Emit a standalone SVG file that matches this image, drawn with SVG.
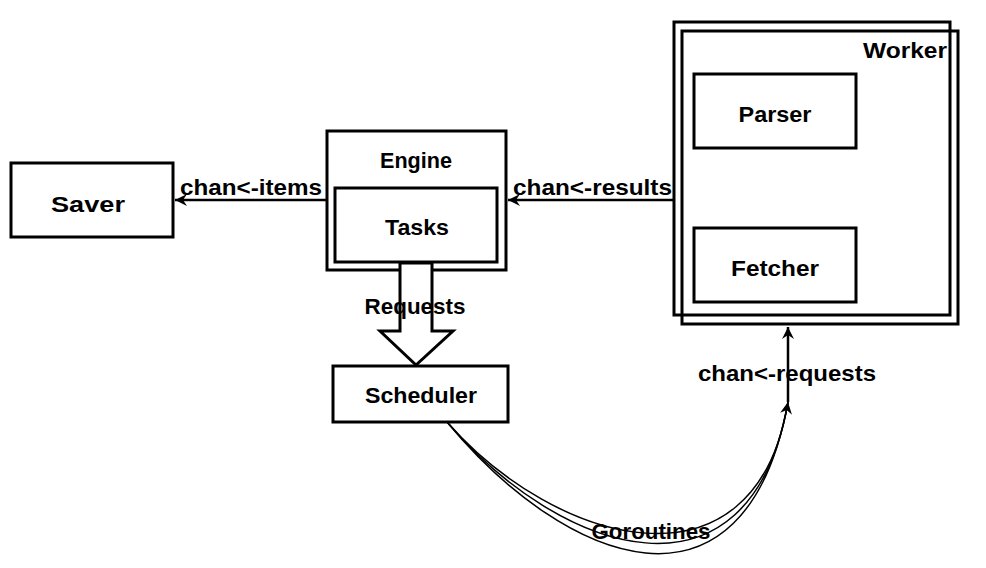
<svg xmlns="http://www.w3.org/2000/svg" width="986" height="568" viewBox="0 0 986 568">
<style>
.box{fill:#fff;stroke:#000;stroke-width:3}
.frame{fill:none;stroke:#000;stroke-width:3}
.t{font-family:"Liberation Sans","DejaVu Sans",sans-serif;font-weight:bold;font-size:22px;fill:#000}
.c{text-anchor:middle}
.ln{fill:none;stroke:#000;stroke-width:2.5}
.cv{fill:none;stroke:#000;stroke-width:1.5}
</style>
<defs>
<marker id="ah" markerWidth="14" markerHeight="12" refX="12" refY="6" orient="auto" markerUnits="userSpaceOnUse">
<path d="M0,0 L12,6 L0,12 L4,6 Z" fill="#000"/>
</marker>
</defs>
<rect width="986" height="568" fill="#fff"/>
<g id="saver">
<rect class="box" x="11" y="163" width="162" height="74"/>
<text class="t c" x="88" y="212" textLength="74" lengthAdjust="spacingAndGlyphs">Saver</text>
</g>
<g id="engine">
<rect class="box" x="327" y="131" width="179" height="139"/>
<text class="t c" x="416" y="168" textLength="72" lengthAdjust="spacingAndGlyphs">Engine</text>
</g>
<g id="tasks">
<rect class="box" x="335" y="188" width="162" height="74"/>
<text class="t c" x="417" y="235" textLength="64" lengthAdjust="spacingAndGlyphs">Tasks</text>
</g>
<g id="worker">
<rect class="frame" x="674" y="22" width="276" height="293"/>
<rect class="frame" x="682" y="31" width="276" height="293"/>
<text class="t c" x="905" y="58" textLength="84" lengthAdjust="spacingAndGlyphs">Worker</text>
</g>
<g id="parser">
<rect class="box" x="694" y="74" width="162" height="74"/>
<text class="t c" x="775" y="122" textLength="73" lengthAdjust="spacingAndGlyphs">Parser</text>
</g>
<g id="fetcher">
<rect class="box" x="694" y="228" width="162" height="74"/>
<text class="t c" x="775" y="276" textLength="88" lengthAdjust="spacingAndGlyphs">Fetcher</text>
</g>
<g id="scheduler">
<rect class="box" x="333" y="366" width="175" height="56"/>
<text class="t c" x="421" y="403" textLength="112" lengthAdjust="spacingAndGlyphs">Scheduler</text>
</g>
<g id="connectors">
<polygon points="400,263 432,263 432,331 453,331 416,365 380,331 400,331" fill="#fff" stroke="#000" stroke-width="3" stroke-linejoin="miter"/>
<text class="t c" x="415" y="314" textLength="101" lengthAdjust="spacingAndGlyphs">Requests</text>
<line class="ln" x1="327" y1="200" x2="175" y2="200" marker-end="url(#ah)"/>
<text class="t" x="180" y="195" textLength="142" lengthAdjust="spacingAndGlyphs">chan&lt;-items</text>
<line class="ln" x1="674" y1="200" x2="508" y2="200" marker-end="url(#ah)"/>
<text class="t" x="513" y="195" textLength="159" lengthAdjust="spacingAndGlyphs">chan&lt;-results</text>
<line class="ln" x1="788" y1="402" x2="788" y2="327" marker-end="url(#ah)"/>
<text class="t" x="698" y="381" textLength="178" lengthAdjust="spacingAndGlyphs">chan&lt;-requests</text>
<path class="cv" d="M447,422 C565,565 745,635 788,402"/>
<path class="cv" d="M447,422 C560,555 750,618 788,402"/>
<path class="cv" d="M447,422 C555,545 755,602 788,402" marker-end="url(#ah)"/>
<text class="t c" x="651" y="539" textLength="119" lengthAdjust="spacingAndGlyphs">Goroutines</text>
</g>
</svg>
